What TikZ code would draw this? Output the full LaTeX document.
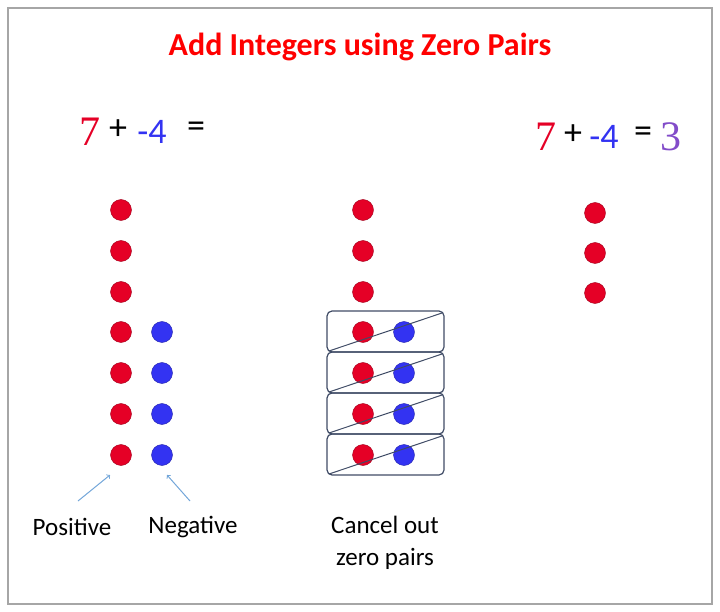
\documentclass[tikz,border=0pt]{standalone}
\usepackage{fontspec}
\setmainfont{Carlito}
\newfontfamily\numfont{Liberation Serif}
\definecolor{dotred}{rgb}{0.9,0,0.15}
\definecolor{dotblue}{rgb}{0.2,0.2,0.95}
\definecolor{pairline}{rgb}{0.25,0.3,0.4}
\definecolor{arrowblue}{rgb}{0.45,0.65,0.85}
\tikzset{
  posdot/.style={circle,draw=dotred!70!black,fill=dotred,minimum size=21pt,inner sep=0pt},
  negdot/.style={circle,draw=dotblue!70!black,fill=dotblue,minimum size=21pt,inner sep=0pt},
  lbl/.style={font=\fontsize{25}{30}\selectfont},
  eq/.style={font=\fontsize{36}{40}\selectfont},
  num/.style={font=\fontsize{42}{46}\selectfont\numfont}
}
\begin{document}
\begin{tikzpicture}[x=1pt,y=-1pt]
\useasboundingbox (0,0) rectangle (720,612);
\draw[gray!70,line width=1.5pt] (8,8) rectangle (712,604);
% title
\node[text=red,font=\fontsize{32}{36}\selectfont\bfseries] (title) at (360,47) {Add Integers using Zero Pairs};
% left equation
\node[num,text=dotred] (l7) at (90,132) {7};
\node[eq] (lplus) at (118,130) {+};
\node[eq,text=dotblue] (lneg) at (152,132) {-4};
\node[eq] (leq) at (196,130) {=};
% right equation
\node[num,text=dotred] (r7) at (546,137) {7};
\node[eq] (rplus) at (573,135) {+};
\node[eq,text=dotblue] (rneg) at (604,137) {-4};
\node[eq] (req) at (643,135) {=};
\node[num,text=violet!60!blue!70] (r3) at (671,137) {3};
% left columns
\foreach \i/\y in {1/210,2/251,3/292,4/332,5/373,6/414,7/455}
  \node[posdot] (p\i) at (121,\y) {};
\foreach \i/\y in {4/332,5/373,6/414,7/455}
  \node[negdot] (n\i) at (162,\y) {};
% middle column
\foreach \i/\y in {1/210,2/251,3/292}
  \node[posdot] (mp\i) at (363,\y) {};
\foreach \i/\y in {4/332,5/373,6/414,7/455} {
  \node[posdot] (mp\i) at (363,\y) {};
  \node[negdot] (mn\i) at (404,\y) {};
  \draw[pairline,line width=1.2pt,rounded corners=5pt] (327,\y-21) rectangle (444,\y+20);
  \draw[pairline,line width=1pt] (329,\y+19) -- (442,\y-19);
}
% right column
\foreach \i/\y in {1/213,2/253,3/293}
  \node[posdot] (rp\i) at (595,\y) {};
% labels
\node[lbl] (positive) at (72,527) {Positive};
\node[lbl] (negative) at (193,527) {Negative};
\node[lbl,align=center] (cancel) at (385,543) {Cancel out\\[2pt]zero pairs};
\coordinate (a1) at (78,501);
\coordinate (a2) at (190,501);
\coordinate (t1) at (110,475);
\coordinate (t2) at (167,475);
\draw[arrowblue,line width=1pt,->] (a1) -- (t1);
\draw[arrowblue,line width=1pt,->] (a2) -- (t2);
\end{tikzpicture}
\end{document}
